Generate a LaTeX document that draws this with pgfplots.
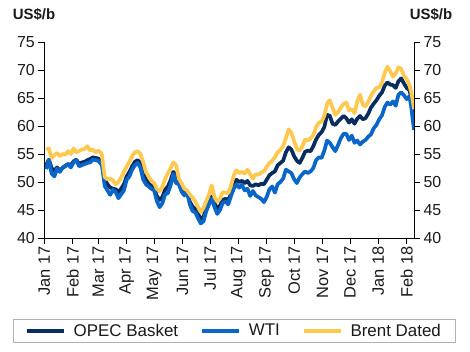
\documentclass[border=0pt]{standalone}
\usepackage{fontspec}
\setmainfont{Liberation Sans}
\usepackage{pgfplots}
\pgfplotsset{compat=1.18}
\definecolor{opec}{HTML}{0B2D5E}
\definecolor{wti}{HTML}{0A66C8}
\definecolor{brent}{HTML}{FFC94F}
\definecolor{txt}{HTML}{1A1A1A}
\begin{document}
\begin{tikzpicture}
\path[use as bounding box] (0,0) rectangle (470bp,352bp);
\begin{axis}[
  at={(44.3bp,114bp)}, anchor=south west,
  scale only axis, width=369.7bp, height=196bp,
  xmin=0, xmax=404, ymin=40, ymax=75,
  axis x line*=bottom, axis y line*=left,
  axis line style={black, line width=0.8bp},
  xtick={0,31,59,90,120,151,181,212,243,273,304,334,365,396},
  xticklabels={Jan 17,Feb 17,Mar 17,Apr 17,May 17,Jun 17,Jul 17,Aug 17,Sep 17,Oct 17,Nov 17,Dec 17,Jan 18,Feb 18},
  ytick={40,45,50,55,60,65,70,75},
  tick align=outside, major tick length=6bp,
  tick style={black, line width=0.8bp},
  /pgf/number format/assume math mode=true,
  x tick label style={rotate=90, anchor=east, font=\fontsize{16.5}{18}\selectfont, text=txt, inner sep=2bp},
  y tick label style={font=\fontsize{16}{18}\selectfont, text=txt},
  legend columns=3,
  legend style={at={(0.513,-0.474)}, anchor=center, draw=gray!60, line width=0.7bp,
    font=\fontsize{17}{19}\selectfont, text=txt, inner xsep=12bp, inner ysep=3bp,
    /tikz/every odd column/.append style={column sep=6bp},
    /tikz/every even column/.append style={column sep=20bp}},
  legend image code/.code={\draw[#1, line width=3.7bp] (0bp,0bp) -- (37bp,0bp);},
  every axis plot/.append style={line width=3.7bp, line join=round},
]
\addplot[opec] coordinates {
(2,53.0)(5,54.0)(8,52.5)(11,52.0)(14,52.6)(17,52.0)(20,52.5)(23,52.9)(26,53.2)(29,53.0)
(32,53.7)(35,54.0)(38,53.2)(41,53.5)(44,53.6)(47,53.9)(50,54.1)(53,54.4)(56,54.3)(59,54.2)
(62,53.6)(63,53.3)(66,50.5)(69,49.6)(72,49.0)(75,48.8)(78,48.7)(81,48.2)(84,48.8)(87,49.6)
(90,51.0)(93,51.8)(96,52.8)(99,53.6)(102,53.9)(105,53.4)(108,51.6)(111,50.4)(114,49.8)(117,49.3)
(120,49.0)(123,47.5)(126,46.8)(129,47.3)(132,48.6)(135,49.2)(138,50.3)(141,51.8)(144,51.3)(147,49.9)
(150,49.0)(153,48.3)(156,48.0)(159,46.5)(162,45.6)(165,45.2)(168,44.3)(171,43.4)(174,43.8)(177,45.3)
(180,46.2)(183,47.4)(186,46.2)(189,45.2)(192,45.8)(195,46.8)(198,47.0)(201,46.8)(204,47.8)(207,49.2)
(210,50.4)(213,50.0)(216,50.2)(219,49.8)(222,50.2)(225,49.4)(228,49.3)(231,49.6)(234,49.4)(237,49.7)
(240,49.6)(243,50.4)(246,51.2)(249,51.6)(252,51.9)(255,53.0)(258,53.4)(261,53.8)(264,55.3)(267,56.2)
(270,55.8)(273,54.6)(276,53.8)(279,53.4)(282,54.3)(285,55.4)(288,55.6)(291,55.5)(294,56.4)(297,57.6)
(300,58.4)(303,58.9)(306,59.8)(309,62.0)(312,61.8)(315,60.4)(318,60.2)(321,60.8)(324,61.3)(327,61.8)
(330,61.4)(333,60.6)(336,61.2)(339,60.4)(342,61.3)(345,61.8)(348,61.2)(351,61.4)(354,62.2)(357,63.3)
(360,64.0)(363,64.6)(366,65.4)(369,66.0)(372,67.2)(375,67.8)(378,67.4)(381,67.3)(384,66.8)(387,68.0)
(390,68.5)(393,67.6)(396,66.8)(399,66.4)(401,65.0)(402,64.0)(404,61.7)
};
\addlegendentry{OPEC Basket}
\addplot[wti] coordinates {
(2,52.3)(5,54.0)(8,51.5)(11,51.0)(14,52.4)(17,51.8)(20,52.6)(23,52.8)(26,53.2)(29,52.6)
(32,53.5)(35,53.9)(38,52.8)(41,53.0)(44,53.2)(47,53.4)(50,53.5)(53,54.0)(56,53.9)(59,53.8)
(62,53.2)(63,53.0)(66,49.3)(69,48.5)(72,47.7)(75,48.6)(78,48.2)(81,47.1)(84,47.8)(87,48.5)
(90,50.4)(93,51.0)(96,52.2)(99,53.0)(102,53.4)(105,52.6)(108,50.5)(111,49.6)(114,49.2)(117,48.8)
(120,48.5)(123,46.6)(126,45.5)(129,46.2)(132,47.8)(135,48.0)(138,49.4)(141,51.4)(144,49.8)(147,49.6)
(150,48.3)(153,47.6)(156,48.2)(159,46.0)(162,44.8)(165,44.6)(168,43.5)(171,42.6)(174,43.0)(177,44.8)
(180,46.0)(183,47.1)(186,45.5)(189,44.3)(192,45.0)(195,46.3)(198,46.5)(201,46.0)(204,47.5)(207,48.8)
(210,49.6)(213,49.0)(216,49.5)(219,48.5)(222,48.8)(225,47.5)(228,48.4)(231,47.6)(234,47.3)(237,47.0)
(240,46.4)(243,47.3)(246,48.7)(249,49.2)(252,48.1)(255,49.6)(258,50.0)(261,50.6)(264,52.2)(267,51.9)
(270,51.6)(273,50.5)(276,49.8)(279,50.8)(282,51.4)(285,51.9)(288,51.6)(291,51.9)(294,52.5)(297,53.9)
(300,54.4)(303,54.3)(306,55.6)(309,57.4)(312,57.0)(315,56.2)(318,55.5)(321,56.6)(324,57.8)(327,58.6)
(330,58.6)(333,57.5)(336,58.3)(339,57.0)(342,57.4)(345,56.7)(348,57.2)(351,57.5)(354,58.1)(357,58.5)
(360,59.6)(363,60.2)(366,61.2)(369,61.9)(372,63.4)(375,64.2)(378,63.8)(381,64.4)(384,63.6)(387,65.6)
(390,66.0)(393,65.5)(396,64.8)(399,65.3)(401,63.4)(402,62.0)(404,59.3)
};
\addlegendentry{WTI}
\addplot[brent] coordinates {
(2,55.8)(5,56.0)(8,54.3)(11,54.8)(14,55.2)(17,54.6)(20,55.0)(23,54.9)(26,55.5)(29,55.0)
(32,56.0)(35,55.3)(38,55.5)(41,55.8)(44,55.9)(47,56.4)(50,55.6)(53,55.8)(56,55.3)(59,55.6)
(62,55.2)(63,54.8)(66,50.9)(69,50.5)(72,50.6)(75,50.3)(78,49.6)(81,50.0)(84,50.8)(87,51.8)
(90,52.8)(93,53.6)(96,54.6)(99,55.3)(102,55.5)(105,55.0)(108,53.6)(111,51.8)(114,51.0)(117,50.2)
(120,49.8)(123,48.8)(126,48.3)(129,49.2)(132,50.5)(135,51.5)(138,52.5)(141,53.5)(144,53.0)(147,50.6)
(150,49.8)(153,48.8)(156,48.5)(159,47.8)(162,47.2)(165,46.5)(168,45.5)(171,44.6)(174,45.4)(177,46.6)
(180,47.8)(183,49.4)(186,47.3)(189,46.5)(192,47.0)(195,48.2)(198,48.1)(201,48.0)(204,49.3)(207,51.2)
(210,52.1)(213,51.6)(216,51.8)(219,51.5)(222,52.2)(225,51.4)(228,50.6)(231,51.4)(234,51.3)(237,51.7)
(240,51.9)(243,52.7)(246,53.4)(249,53.8)(252,54.4)(255,55.3)(258,55.7)(261,56.4)(264,57.8)(267,59.4)
(270,58.8)(273,57.3)(276,55.9)(279,55.6)(282,56.4)(285,57.6)(288,57.4)(291,57.8)(294,58.4)(297,59.8)
(300,60.6)(303,60.8)(306,61.8)(309,64.0)(312,64.6)(315,63.3)(318,62.0)(321,62.5)(324,63.3)(327,63.9)
(330,64.2)(333,62.8)(336,63.0)(339,62.3)(342,64.4)(345,65.6)(348,63.8)(351,63.5)(354,64.3)(357,65.4)
(360,66.2)(363,66.8)(366,66.9)(369,67.8)(372,69.5)(375,70.6)(378,69.8)(381,68.8)(384,69.4)(387,70.5)
(390,70.2)(393,69.0)(396,68.4)(399,67.3)(401,66.0)(402,65.2)(404,63.0)
};
\addlegendentry{Brent Dated}
\end{axis}
\begin{axis}[
  at={(44.3bp,114bp)}, anchor=south west,
  scale only axis, width=369.7bp, height=196bp,
  xmin=0, xmax=404, ymin=40, ymax=75,
  axis x line=none, axis y line*=right,
  axis line style={black, line width=0.8bp},
  ytick={40,45,50,55,60,65,70,75},
  tick align=outside, major tick length=6bp,
  tick style={black, line width=0.8bp},
  /pgf/number format/assume math mode=true,
  y tick label style={font=\fontsize{16}{18}\selectfont, text=txt},
]
\end{axis}
\node[font=\bfseries\fontsize{15}{17}\selectfont, text=txt] at (34bp,337bp) {US\$/b};
\node[font=\bfseries\fontsize{15}{17}\selectfont, text=txt] at (431bp,337bp) {US\$/b};
\end{tikzpicture}
\end{document}
